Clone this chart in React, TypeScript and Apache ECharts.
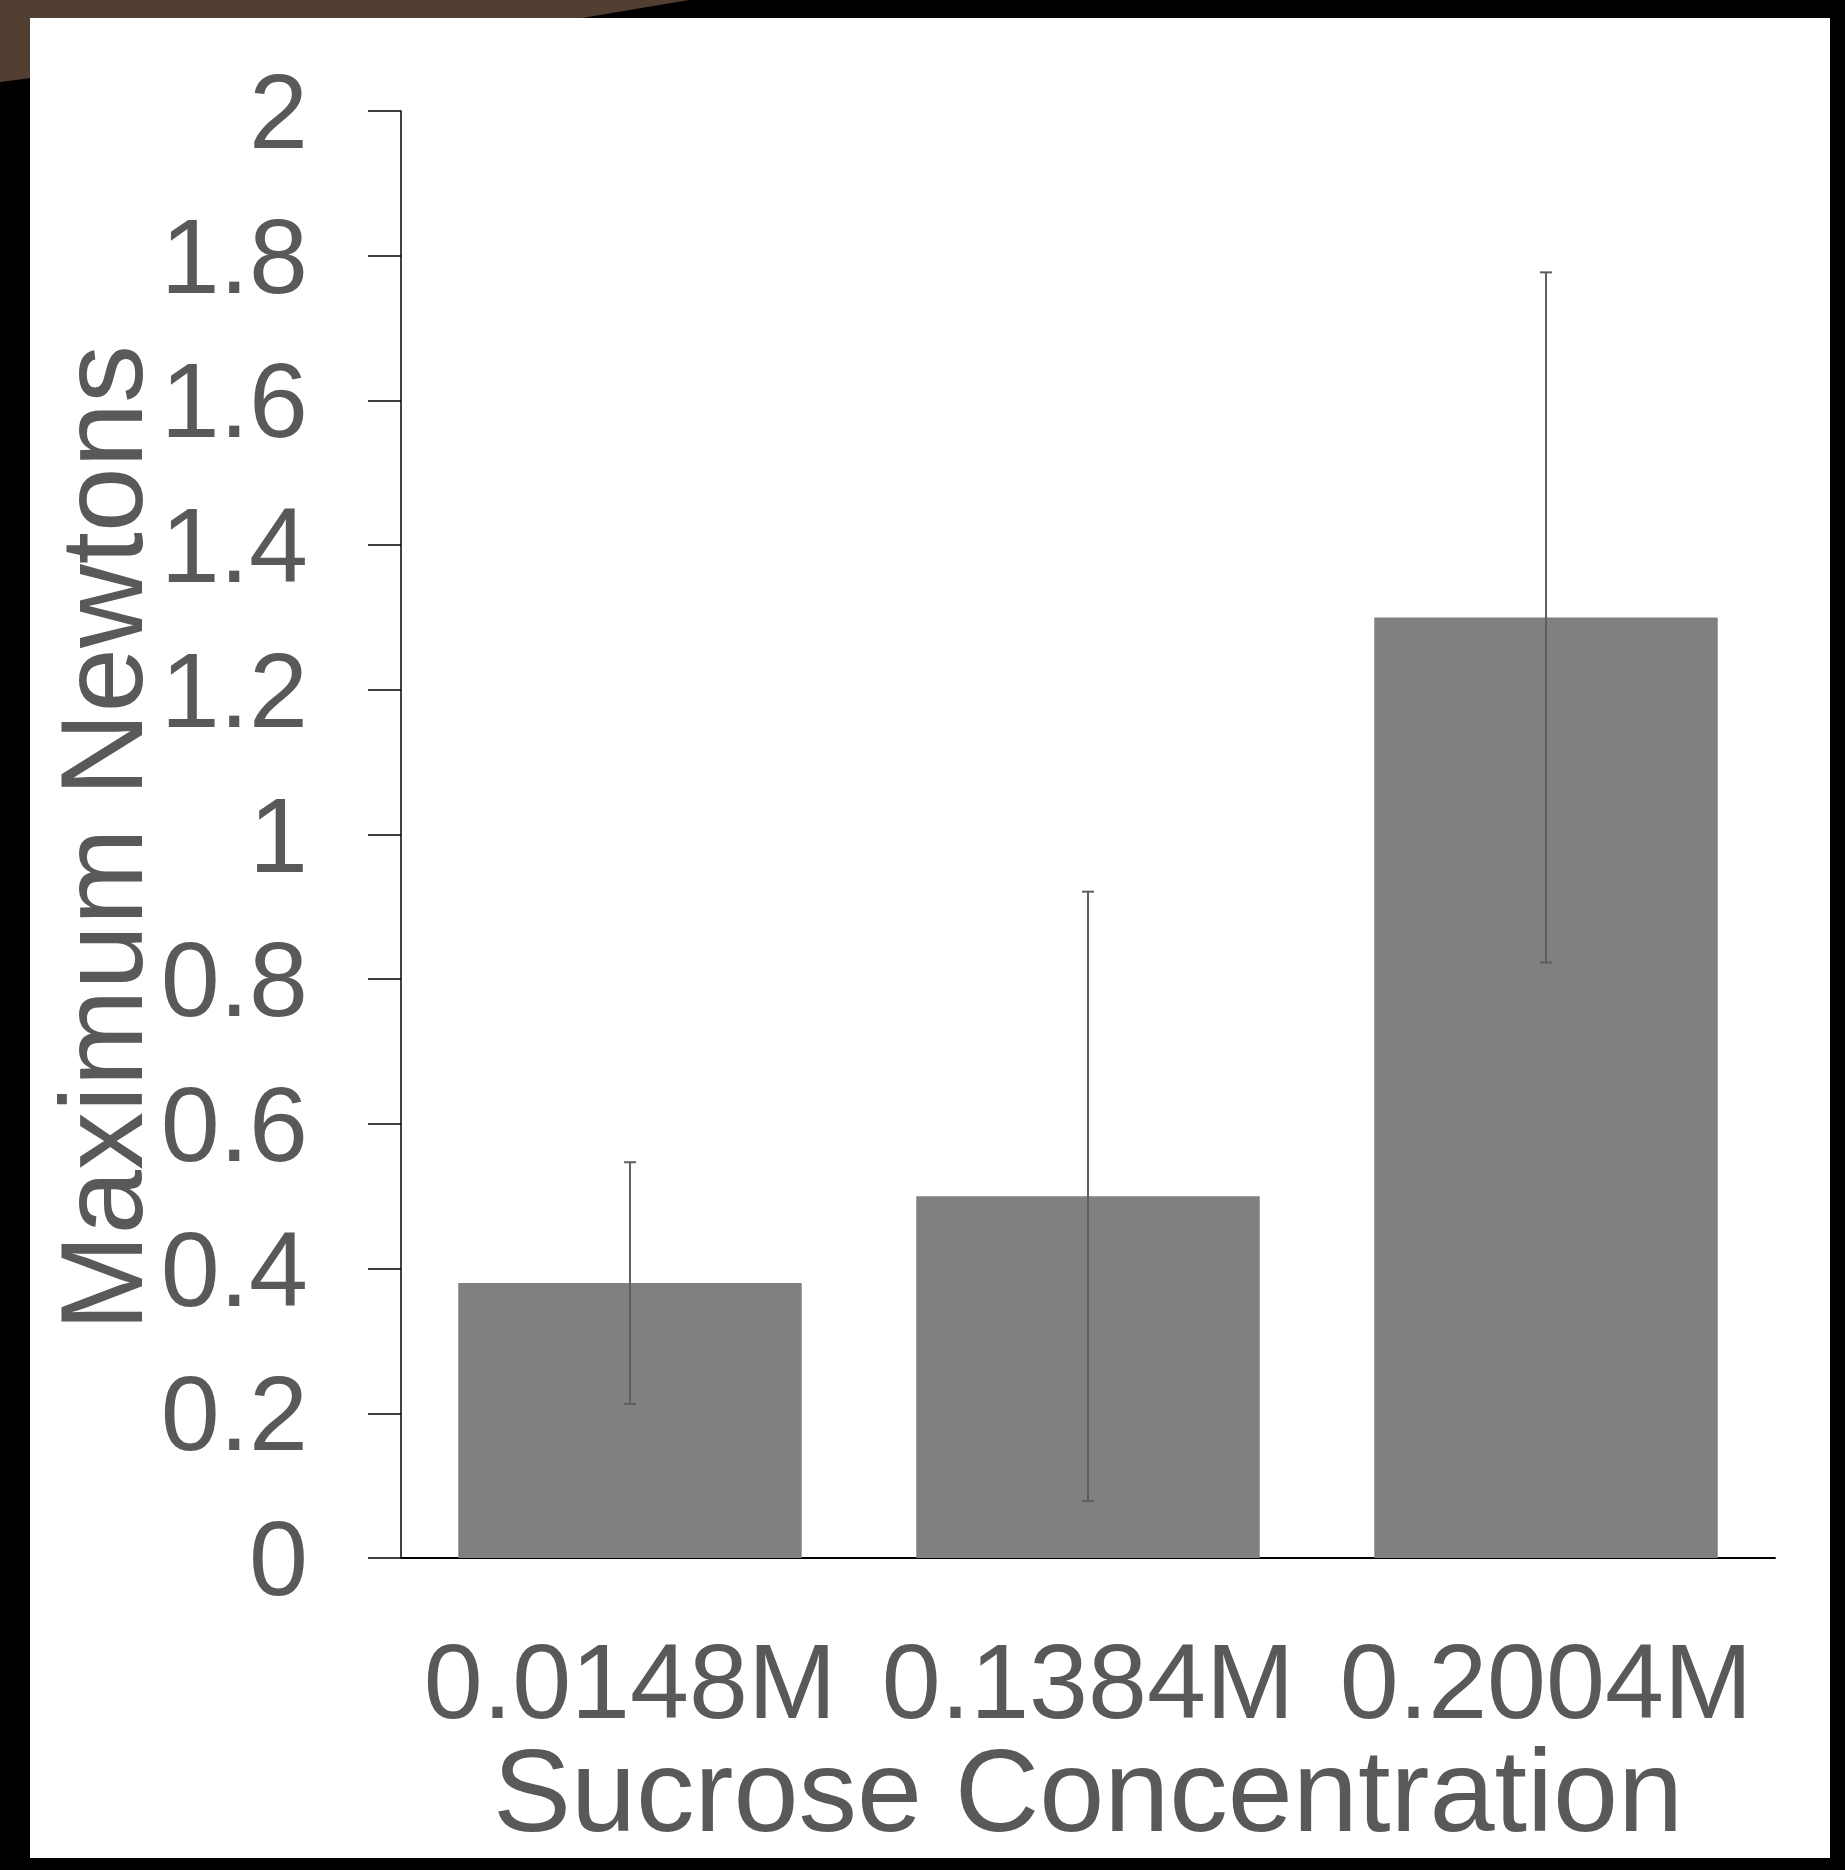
import React, { useEffect, useRef } from "react";
import * as echarts from "echarts";

const categories = ["0.0148M", "0.1384M", "0.2004M"];
const means = [0.38, 0.5, 1.3];
const errors = [0.167, 0.421, 0.477];
const yTicks = [0, 0.2, 0.4, 0.6, 0.8, 1, 1.2, 1.4, 1.6, 1.8, 2];

const FONT = "'Liberation Sans', Arial, Helvetica, sans-serif";
const TEXT = "#595959";

export default function App() {
  const ref = useRef<HTMLDivElement>(null);
  useEffect(() => {
    if (!ref.current) return;
    const chart = echarts.init(ref.current, null, { renderer: "svg" });
    const errData = categories.map((c, i) => [i, means[i] - errors[i], means[i] + errors[i]]);
    chart.setOption({
      animation: false,
      backgroundColor: "#000000",
      graphic: [
        {
          type: "polygon",
          z: -10,
          shape: { points: [[0, 0], [689, 0], [582, 18], [31, 78], [0, 82]] },
          style: { fill: "#533f32" },
        },
        {
          type: "rect",
          z: -9,
          shape: { x: 30, y: 18, width: 1800, height: 1840 },
          style: { fill: "#ffffff" },
        },
        {
          type: "text",
          x: 1088,
          y: 1790,
          style: {
            text: "Sucrose Concentration",
            font: `117px ${FONT}`,
            fill: TEXT,
            align: "center",
            verticalAlign: "middle",
          },
        },
        {
          type: "text",
          x: 102,
          y: 838,
          rotation: Math.PI / 2,
          style: {
            text: "Maximum Newtons",
            font: `116px ${FONT}`,
            fill: TEXT,
            align: "center",
            verticalAlign: "middle",
          },
        },
      ],
      grid: { left: 401, right: 70, top: 111, bottom: 312, containLabel: false },
      xAxis: {
        type: "category",
        data: categories,
        axisLine: { show: true, lineStyle: { color: "#000000", width: 2 } },
        axisTick: { show: false },
        axisLabel: {
          color: TEXT,
          fontSize: 106,
          fontFamily: FONT,
          margin: 70,
          interval: 0,
        },
        splitLine: { show: false },
      },
      yAxis: {
        type: "value",
        min: 0,
        max: 2,
        interval: 0.2,
        axisLine: { show: true, lineStyle: { color: "#000000", width: 1.5 } },
        axisTick: { show: true, length: 33, inside: false, lineStyle: { color: "#000000", width: 1.5 } },
        axisLabel: {
          color: TEXT,
          fontSize: 106,
          fontFamily: FONT,
          margin: 93,
          formatter: (v: number) => {
            const t = yTicks.find((x) => Math.abs(x - v) < 1e-9);
            return String(t !== undefined ? t : v);
          },
        },
        splitLine: { show: false },
      },
      series: [
        {
          type: "bar",
          data: means,
          barCategoryGap: "25%",
          itemStyle: { color: "#808080" },
          z: 2,
        },
        {
          type: "custom",
          z: 3,
          data: errData,
          renderItem: (params: any, api: any) => {
            const x = api.value(0);
            const lo = api.coord([x, api.value(1)]);
            const hi = api.coord([x, api.value(2)]);
            const cx = lo[0];
            const cap = 6;
            const style = { stroke: "#5e5e5e", lineWidth: 2 };
            return {
              type: "group",
              children: [
                { type: "line", shape: { x1: cx, y1: lo[1], x2: cx, y2: hi[1] }, style },
                { type: "line", shape: { x1: cx - cap, y1: lo[1], x2: cx + cap, y2: lo[1] }, style },
                { type: "line", shape: { x1: cx - cap, y1: hi[1], x2: cx + cap, y2: hi[1] }, style },
              ],
            };
          },
        },
      ],
    });
    return () => chart.dispose();
  }, []);
  return (
    <div
      ref={ref}
      style={{ position: "absolute", left: 0, top: 0, width: 1845, height: 1870 }}
    />
  );
}
